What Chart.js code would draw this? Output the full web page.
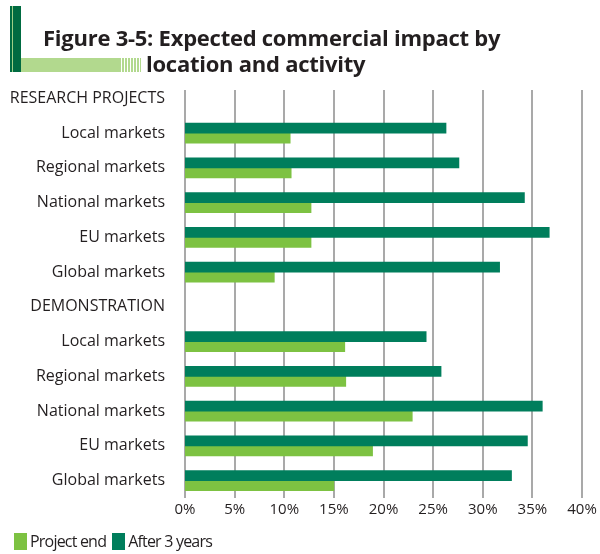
<!DOCTYPE html>
<html>
<head>
<meta charset="utf-8">
<script src="https://cdn.jsdelivr.net/npm/chart.js@4"></script>
<style>
  body { margin: 0; background: #fff; }
  #wrap { position: relative; width: 600px; height: 554px; overflow: hidden; font-family: "Open Sans", sans-serif; }
  #chart { position: absolute; left: 0; top: 0; }
  .deco-v { position: absolute; left: 10px; top: 6px; width: 11px; height: 66px; background: #006b41; }
  .deco-v i { position: absolute; left: 2px; top: 0; width: 1px; height: 100%; background: #9fcf86; }
  .deco-h { position: absolute; left: 21px; top: 58px; width: 98px; height: 14px; background: #b2d98e; }
  .stripes { position: absolute; left: 119px; top: 58px; width: 22px; height: 14px;
    background: repeating-linear-gradient(90deg, #b2d98e 0 2px, #fff 2px 3px); }
  .title { position: absolute; color: #231f20; font-weight: bold; font-size: 22px; white-space: nowrap; letter-spacing: -0.25px; }
  #legend { position: absolute; left: 14px; top: 530px; display: flex; font-size: 16px; letter-spacing: -0.8px; color: #231f20; }
  #legend span { display: flex; align-items: center; margin-right: 6px; }
  #legend b { display: inline-block; width: 13px; height: 17px; margin-right: 3px; }
</style>
</head>
<body>
<div id="wrap">
  <canvas id="chart" width="600" height="554"></canvas>
  <div class="deco-v"><i></i></div>
  <div class="deco-h"></div>
  <div class="stripes"></div>
  <div class="title" style="left:43px; top:22px;">Figure 3-5: Expected commercial impact by</div>
  <div class="title" style="left:146px; top:48px;">location and activity</div>
  <div id="legend"></div>
</div>
<script>
var categories = ['RESEARCH PROJECTS', 'Local markets', 'Regional markets', 'National markets', 'EU markets', 'Global markets',
                  'DEMONSTRATION', 'Local markets', 'Regional markets', 'National markets', 'EU markets', 'Global markets'];
var projectEnd = [null, 10.6, 10.7, 12.7, 12.7, 9.0, null, 16.1, 16.2, 22.9, 18.9, 15.0];
var afterThreeYears = [null, 26.3, 27.6, 34.2, 36.7, 31.7, null, 24.3, 25.8, 36.0, 34.5, 32.9];
var xTicks = [0, 5, 10, 15, 20, 25, 30, 35, 40];

var lightGreen = '#7dc242';
var darkGreen = '#007e5c';

// vertical grid lines, starting a little below the top of the plot
var gridLines = {
  id: 'gridLines',
  beforeDatasetsDraw: function (chart) {
    var ctx = chart.ctx, area = chart.chartArea, x = chart.scales.x;
    ctx.save();
    ctx.strokeStyle = '#a9a9a9';
    ctx.lineWidth = 2;
    x.ticks.forEach(function (t) {
      var px = Math.round(x.getPixelForValue(t.value));
      ctx.beginPath();
      ctx.moveTo(px, area.top + 9);
      ctx.lineTo(px, area.bottom);
      ctx.stroke();
    });
    ctx.restore();
  }
};

var chart = new Chart(document.getElementById('chart'), {
  type: 'bar',
  data: {
    labels: categories,
    datasets: [
      { label: 'After 3 years', data: afterThreeYears, backgroundColor: darkGreen, barThickness: 10 },
      { label: 'Project end', data: projectEnd, backgroundColor: lightGreen, barThickness: 10 }
    ]
  },
  options: {
    indexAxis: 'y',
    responsive: false,
    animation: false,
    layout: { padding: { top: 81, right: 18, bottom: 32, left: 0 } },
    plugins: { legend: { display: false }, tooltip: { enabled: false } },
    scales: {
      x: {
        min: 0, max: 40,
        afterBuildTicks: function (s) { s.ticks = xTicks.map(function (v) { return { value: v }; }); },
        grid: { display: false, drawTicks: false },
        border: { display: false },
        ticks: { padding: 3, color: '#231f20', font: { family: 'Open Sans', size: 15 },
                 callback: function (v) { return v + '%'; } }
      },
      y: {
        afterFit: function (s) { s.width = 185; },
        grid: { display: false, drawTicks: false },
        border: { display: false },
        ticks: { padding: 20, color: '#231f20', font: { family: 'Open Sans', size: 16 }, autoSkip: false }
      }
    }
  },
  plugins: [gridLines]
});

// legend in the same order as the page layout: Project end first
var legend = document.getElementById('legend');
chart.data.datasets.slice().reverse().forEach(function (ds) {
  var item = document.createElement('span');
  var box = document.createElement('b');
  box.style.background = ds.backgroundColor;
  item.appendChild(box);
  item.appendChild(document.createTextNode(ds.label));
  legend.appendChild(item);
});
</script>
</body>
</html>
